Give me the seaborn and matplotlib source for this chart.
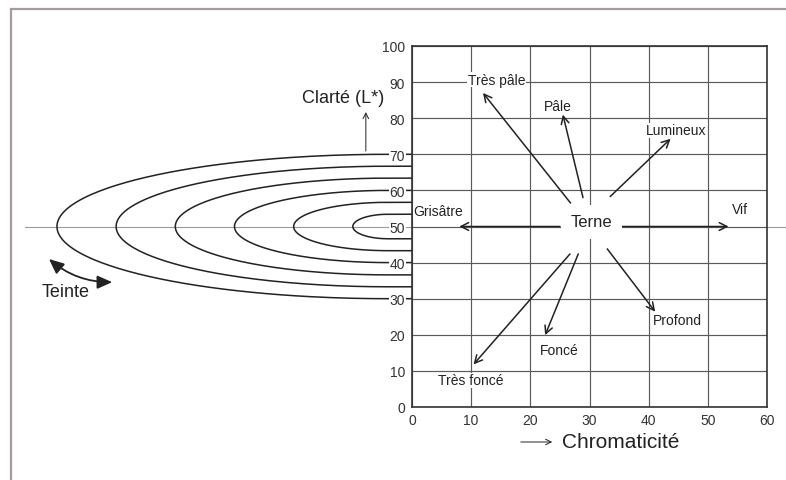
import numpy as np
import seaborn as sns
import matplotlib.pyplot as plt
from matplotlib.lines import Line2D
from matplotlib.patches import FancyArrowPatch

# directions around "Terne"
arrowNames = ["Très pâle", "Pâle", "Lumineux", "Grisâtre", "Vif", "Très foncé", "Foncé", "Profond"]
tailX = [26.8, 28.9, 33.5, 25.0, 35.2, 26.7, 28.1, 33.0]
tailY = [56.5, 58.0, 58.3, 50.0, 50.0, 42.4, 42.4, 43.8]
headX = [12.0, 25.5, 43.7, 8.0, 53.5, 10.4, 22.5, 41.1]
headY = [87.0, 81.0, 74.3, 50.0, 50.0, 11.8, 19.9, 26.4]
labelX = [14.3, 24.6, 44.7, 4.5, 55.4, 9.9, 24.9, 44.8]
labelY = [90.7, 83.3, 76.6, 54.2, 54.9, 7.4, 15.7, 24.0]

# hue rings (left half-ellipses around L* = 50)
ringLeft = [-60, -50, -40, -30, -20, -10]
ringHalf = [20.0, 16.7, 13.4, 10.0, 6.7, 3.4]
ringCentre = -4
midL = 50

xTicks = [0, 10, 20, 30, 40, 50, 60]
yTicks = [0, 10, 20, 30, 40, 50, 60, 70, 80, 90, 100]

sns.set_style("white")
plt.rcParams['font.family'] = ['Liberation Sans', 'DejaVu Sans']
ink = "#222222"

fig = plt.figure(figsize=(7.86, 4.81), dpi=100)
axl = fig.add_axes([25/786, 73/481, 387/786, 361/481])
ax = fig.add_axes([412/786, 73/481, 355/786, 361/481])

# left part: rings
axl.set_xlim(-65.4, 0)
axl.set_ylim(0, 100)
axl.axis("off")
axl.axhline(midL, color="#999999", lw=0.8, zorder=0)
for left, half in zip(ringLeft, ringHalf):
    a = ringCentre - left
    t = np.linspace(np.pi/2, 3*np.pi/2, 200)
    xs = np.concatenate([[0], ringCentre + a*np.cos(t), [0]])
    ys = np.concatenate([[midL + half], midL + half*np.sin(t), [midL - half]])
    sns.lineplot(x=xs, y=ys, sort=False, estimator=None, ax=axl, color=ink, lw=1.1)

axl.annotate("", xy=(-7.8, 81.7), xytext=(-7.8, 70.9),
             arrowprops=dict(arrowstyle="->", lw=0.7, color=ink, shrinkA=0, shrinkB=0))
axl.text(-11.7, 85.6, "Clarté (L*)", fontsize=13, color=ink, ha="center", va="center")
axl.add_patch(FancyArrowPatch((-61.7, 41.5), (-50.2, 34.6), arrowstyle="<|-|>,head_length=9,head_width=4",
                              connectionstyle="arc3,rad=0.2", color=ink, lw=1.3, mutation_scale=1))
axl.text(-58.6, 32.1, "Teinte", fontsize=13, color=ink, ha="center", va="center")

# right part: grid
ax.set_xlim(0, 60)
ax.set_ylim(0, 100)
ax.set_xticks(xTicks)
ax.set_yticks(yTicks)
ax.grid(True, color="#5a5a5a", lw=0.85)
ax.tick_params(axis="x", length=0, labelsize=10, labelcolor="#333333", pad=4)
ax.tick_params(axis="y", length=4, width=0.9, color="#444444", labelsize=10, labelcolor="#333333", pad=1)
for side in ax.spines.values():
    side.set_color("#333333")
    side.set_linewidth(1.2)
for lbl in ax.get_yticklabels():
    lbl.set_bbox(dict(fc="white", ec="none", pad=0.5))
ax.axhline(midL, xmin=1, xmax=1 + 19/355, color="#999999", lw=0.8, clip_on=False)

for name, tx, ty, hx, hy, lx, ly in zip(arrowNames, tailX, tailY, headX, headY, labelX, labelY):
    ax.annotate("", xy=(hx, hy), xytext=(tx, ty),
                arrowprops=dict(arrowstyle="->,head_length=0.55,head_width=0.28", lw=1.1, color=ink,
                                shrinkA=0, shrinkB=0), zorder=4)
    ax.text(lx, ly, name, fontsize=10, color=ink, ha="center", va="center", zorder=5,
            bbox=dict(fc="white", ec="none", pad=0.5))

ax.text(30.3, 51.3, "Terne", fontsize=12, color=ink, ha="center", va="center", zorder=5,
        bbox=dict(fc="white", ec="none", pad=7))

# x-axis title with its arrow
fig.add_artist(FancyArrowPatch((518/786, 1 - 443/481), (555/786, 1 - 443/481), transform=fig.transFigure,
                               arrowstyle="->", mutation_scale=10, lw=0.7, color=ink))
fig.text(562/786, 1 - 443/481, "Chromaticité", fontsize=15, color=ink, ha="left", va="center")

# scan frame
frame = "#a89a98"
fig.add_artist(Line2D([11/786, 11/786], [0, 1 - 10/481], color=frame, lw=1.6))
fig.add_artist(Line2D([11/786, 1], [1 - 10/481, 1 - 10/481], color=frame, lw=1.6))

plt.savefig("out.png", dpi=100)
